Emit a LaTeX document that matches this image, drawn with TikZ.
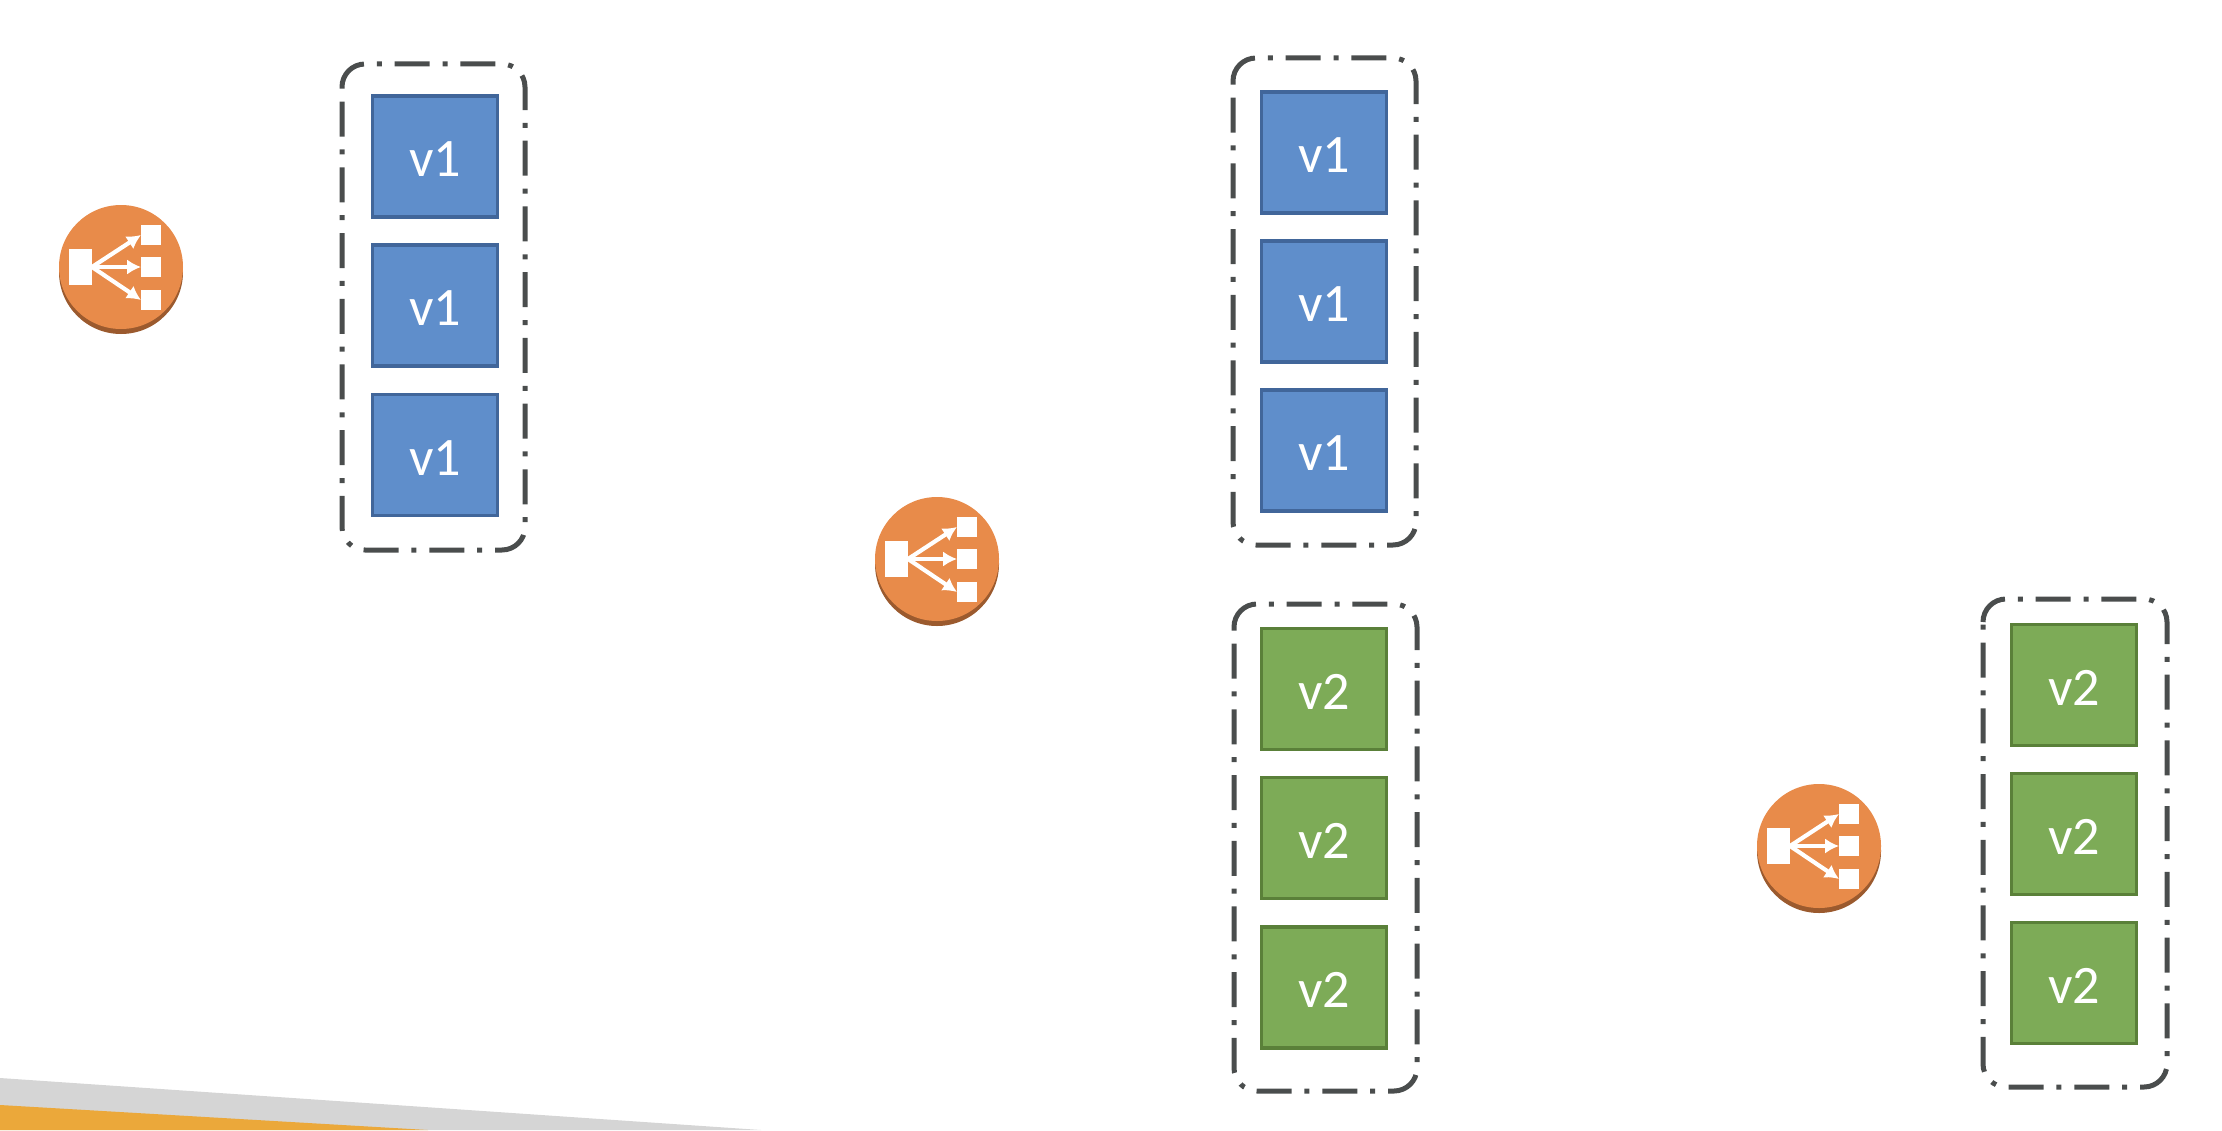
\documentclass[tikz,border=0pt]{standalone}
\usepackage{fontspec}
\setmainfont{Carlito}
\usetikzlibrary{arrows.meta}

\definecolor{blueFill}{RGB}{95,142,203}
\definecolor{blueEdge}{RGB}{65,102,154}
\definecolor{greenFill}{RGB}{125,171,87}
\definecolor{greenEdge}{RGB}{90,128,57}
\definecolor{lbFill}{RGB}{232,139,74}
\definecolor{lbEdge}{RGB}{155,90,46}
\definecolor{groupEdge}{RGB}{74,77,77}
\definecolor{stripeGrey}{RGB}{213,213,213}
\definecolor{stripeOrange}{RGB}{235,168,58}

\tikzset{
	v1box/.style={draw=blueEdge,fill=blueFill,line width=1.2pt,minimum width=45pt,minimum height=43.6pt,inner sep=0pt,text=white,text height=14.5pt,text depth=0pt,font=\fontsize{19.5}{23}\selectfont},
	v2box/.style={v1box,draw=greenEdge,fill=greenFill},
	groupbox/.style={draw=groupEdge,line width=1.8pt,dash pattern=on 12.6pt off 4.63pt on 1.8pt off 4.63pt},
	lbarrow/.style={draw=white,line width=1.5pt,-{Latex[length=5pt,width=5.5pt]}},
	pics/lbicon/.style={code={
		\fill [lbEdge,yshift=-1.8pt] (0,0) circle [radius=62];
		\fill [lbFill] (0,0) circle [radius=62];
		\fill [white] (-52,-18) rectangle (-29,18);
		\fill [white] (20,-43) rectangle (40,-23);
		\fill [white] (20,-10) rectangle (40,10);
		\fill [white] (20,22) rectangle (40,42);
		\draw [lbarrow] (-29,0) -- (20,-33);
		\draw [lbarrow] (-29,0) -- (20,0);
		\draw [lbarrow] (-29,0) -- (20,32);
	}}
}

\begin{document}
\begin{tikzpicture}[x=0.36pt,y=0.36pt,yscale=-1]
	\useasboundingbox (0,0) rectangle (2222,1130);

	%Shape: bottom stripes
	\fill [stripeGrey] (0,1078) -- (761,1130) -- (0,1130) -- cycle;
	\fill [stripeOrange] (0,1105) -- (428,1130) -- (0,1130) -- cycle;

	%Shape: load balancers
	\pic (lbOld) at (121,267) {lbicon};
	\pic (lbBoth) at (937,559) {lbicon};
	\pic (lbNew) at (1819,846) {lbicon};

	%Shape: group outlines
	\draw [groupbox] (342,87) arc [start angle=180,end angle=270,radius=23] -- (502,64) arc [start angle=270,end angle=360,radius=23] -- (525,527) arc [start angle=0,end angle=90,radius=23] -- (365,550) arc [start angle=90,end angle=180,radius=23] -- cycle;
	\draw [groupbox] (1233,81) arc [start angle=180,end angle=270,radius=23] -- (1393,58) arc [start angle=270,end angle=360,radius=23] -- (1416,522) arc [start angle=0,end angle=90,radius=23] -- (1256,545) arc [start angle=90,end angle=180,radius=23] -- cycle;
	\draw [groupbox] (1234,627) arc [start angle=180,end angle=270,radius=23] -- (1394,604) arc [start angle=270,end angle=360,radius=23] -- (1417,1068) arc [start angle=0,end angle=90,radius=23] -- (1257,1091) arc [start angle=90,end angle=180,radius=23] -- cycle;
	\draw [groupbox] (1983,622) arc [start angle=180,end angle=270,radius=23] -- (2144,599) arc [start angle=270,end angle=360,radius=23] -- (2167,1064) arc [start angle=0,end angle=90,radius=23] -- (2006,1087) arc [start angle=90,end angle=180,radius=23] -- cycle;

	% First column
	\node [v1box] (oldA) at (435,156.5) {v1};
	\node [v1box] (oldB) at (435,305.5) {v1};
	\node [v1box] (oldC) at (435,455) {v1};

	% Second column
	\node [v1box] (blueA) at (1324,152.5) {v1};
	\node [v1box] (blueB) at (1324,301.5) {v1};
	\node [v1box] (blueC) at (1324,450.5) {v1};

	% Third column
	\node [v2box] (greenA) at (1324,689) {v2};
	\node [v2box] (greenB) at (1324,838) {v2};
	\node [v2box] (greenC) at (1324,987.5) {v2};

	% Fourth column
	\node [v2box] (newA) at (2074,685) {v2};
	\node [v2box] (newB) at (2074,834) {v2};
	\node [v2box] (newC) at (2074,983) {v2};

\end{tikzpicture}
\end{document}
